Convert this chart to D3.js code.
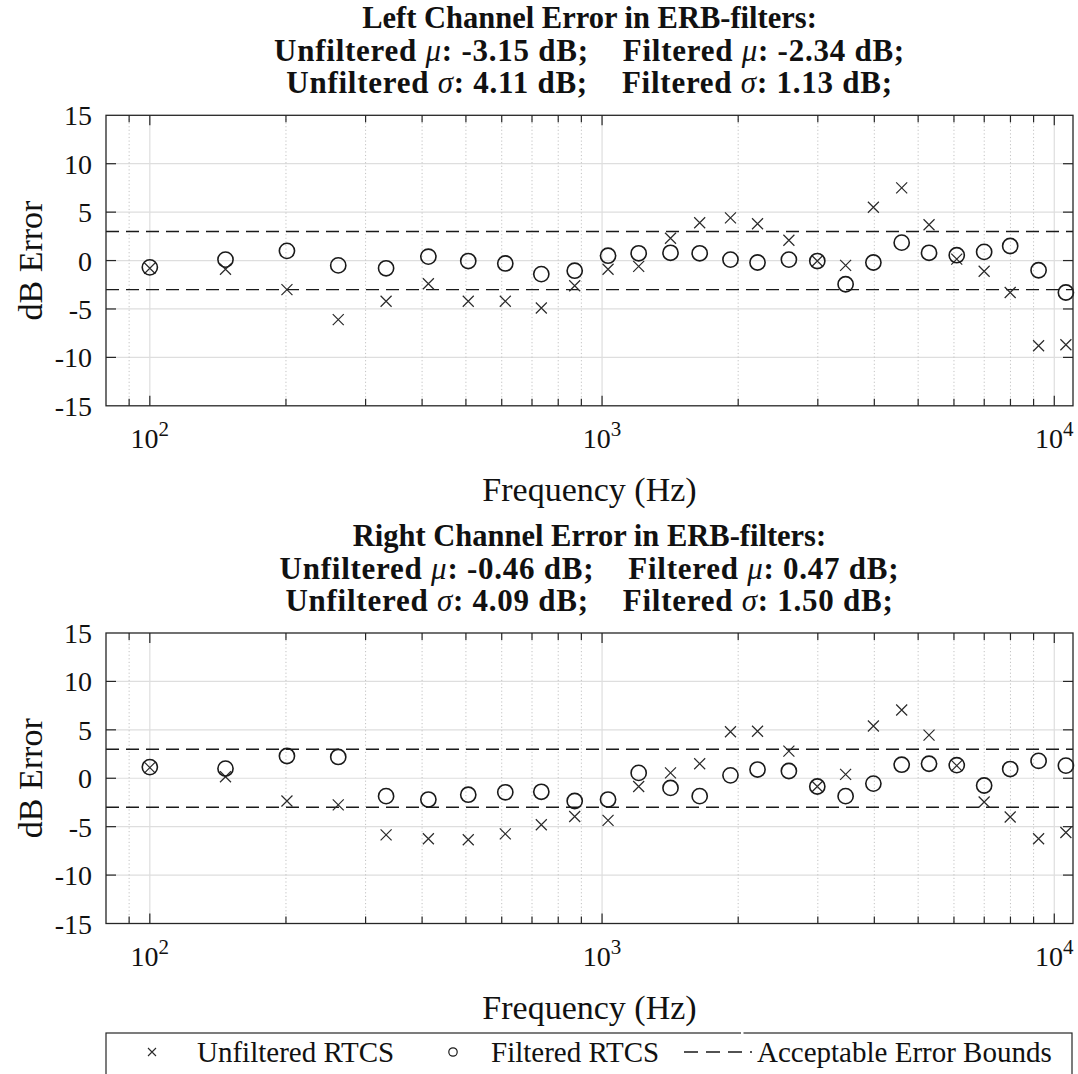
<!DOCTYPE html>
<html>
<head>
<meta charset="utf-8">
<script src="https://cdn.jsdelivr.net/npm/d3@7"></script>
<style>
  html, body { margin: 0; padding: 0; background: #fff; }
  svg { display: block; }
  text { font-family: "Liberation Serif", "Times New Roman", Times, serif; fill: #111; }
</style>
</head>
<body>
<svg id="chart" width="1078" height="1074"></svg>
<script>
// ERB-filter centre frequencies (Hz)
const frequencies = [100, 147, 201, 261, 333, 413, 506, 611, 734, 870, 1031, 1205, 1417, 1644,
  1923, 2207, 2589, 2992, 3456, 3981, 4598, 5285, 6086, 6997, 7989, 9232, 10609];

// Left channel error (dB)
const leftUnfiltered = [-0.8, -0.9, -3.0, -6.1, -4.2, -2.4, -4.2, -4.2, -4.9, -2.6, -0.9, -0.6, 2.3, 3.9,
  4.4, 3.8, 2.1, -0.05, -0.5, 5.5, 7.5, 3.7, 0.15, -1.1, -3.3, -8.8, -8.7];
const leftFiltered = [-0.7, 0.1, 1.0, -0.5, -0.8, 0.4, -0.05, -0.3, -1.4, -1.05, 0.5, 0.75, 0.8, 0.75,
  0.1, -0.2, 0.1, -0.05, -2.45, -0.2, 1.85, 0.8, 0.55, 0.9, 1.5, -1.0, -3.3];

// Right channel error (dB)
const rightUnfiltered = [1.1, 0.15, -2.35, -2.75, -5.85, -6.25, -6.35, -5.75, -4.8, -3.95, -4.35, -0.85, 0.55, 1.5,
  4.8, 4.85, 2.8, -0.85, 0.4, 5.4, 7.05, 4.45, 1.3, -2.45, -4.0, -6.25, -5.6];
const rightFiltered = [1.15, 1.0, 2.3, 2.2, -1.85, -2.2, -1.7, -1.45, -1.4, -2.35, -2.2, 0.55, -1.0, -1.85,
  0.3, 0.9, 0.75, -0.85, -1.85, -0.55, 1.4, 1.5, 1.35, -0.75, 0.95, 1.8, 1.3];

// Summary statistics: unfiltered mu, filtered mu, unfiltered sigma, filtered sigma
const leftStats = ["-3.15", "-2.34", "4.11", "1.13"];
const rightStats = ["-0.46", "0.47", "4.09", "1.50"];

const errorBound = 3;
const yTickValues = [-15, -10, -5, 0, 5, 10, 15];
const xDecades = [100, 1000, 10000];
const xTickExponents = ["2", "3", "4"];
const legendLabels = ["Unfiltered RTCS", "Filtered RTCS", "Acceptable Error Bounds"];

const svg = d3.select("#chart");
const axisColor = "#262626";
const plotLeft = 106, plotRight = 1073;
const freqDomain = [80, 11000];
const dbDomain = [-15, 15];

const minorX = [];
[10, 100, 1000, 10000].forEach(dec => d3.range(2, 10).forEach(k => {
  const f = k * dec;
  if (f > freqDomain[0] && f < freqDomain[1]) minorX.push(f);
}));

function titleLines(channel, stats) {
  return [
    [{ t: channel + " Channel Error in ERB-filters:" }],
    [{ t: "Unfiltered " }, { t: "\u03BC", i: true }, { t: ": " + stats[0] + " dB;    Filtered " },
     { t: "\u03BC", i: true }, { t: ": " + stats[1] + " dB;" }],
    [{ t: "Unfiltered " }, { t: "\u03C3", i: true }, { t: ": " + stats[2] + " dB;    Filtered " },
     { t: "\u03C3", i: true }, { t: ": " + stats[3] + " dB;" }]
  ];
}

function drawPanel(cfg) {
  const g = svg.append("g");
  const x = d3.scaleLog().domain(freqDomain).range([plotLeft, plotRight]);
  const y = d3.scaleLinear().domain(dbDomain).range([cfg.bottom, cfg.top]);
  const cx = (plotLeft + plotRight) / 2;

  // grid
  g.selectAll("line.gy").data(yTickValues.filter(v => v > dbDomain[0] && v < dbDomain[1])).join("line")
    .attr("class", "gy").attr("x1", plotLeft).attr("x2", plotRight)
    .attr("y1", d => y(d)).attr("y2", d => y(d))
    .attr("stroke", "#dedede").attr("stroke-width", 1.2);
  g.selectAll("line.gxm").data(minorX).join("line")
    .attr("class", "gxm").attr("x1", d => x(d)).attr("x2", d => x(d))
    .attr("y1", cfg.top).attr("y2", cfg.bottom)
    .attr("stroke", "#c2c2c2").attr("stroke-width", 1).attr("stroke-dasharray", "1.2 2.4");
  g.selectAll("line.gx").data(xDecades).join("line")
    .attr("class", "gx").attr("x1", d => x(d)).attr("x2", d => x(d))
    .attr("y1", cfg.top).attr("y2", cfg.bottom)
    .attr("stroke", "#dedede").attr("stroke-width", 1.2);

  // acceptable error bounds
  g.selectAll("line.bound").data([errorBound, -errorBound]).join("line")
    .attr("class", "bound").attr("x1", plotLeft).attr("x2", plotRight)
    .attr("y1", d => y(d)).attr("y2", d => y(d))
    .attr("stroke", "#1a1a1a").attr("stroke-width", 1.4).attr("stroke-dasharray", "13 7");

  // unfiltered (crosses)
  const arm = 5.5;
  g.selectAll("path.unf").data(d3.zip(frequencies, cfg.unfiltered)).join("path")
    .attr("class", "unf")
    .attr("transform", d => `translate(${x(d[0])},${y(d[1])})`)
    .attr("d", `M${-arm},${-arm}L${arm},${arm}M${-arm},${arm}L${arm},${-arm}`)
    .attr("fill", "none").attr("stroke", "#2a2a2a").attr("stroke-width", 1.2);

  // filtered (circles)
  g.selectAll("circle.fil").data(d3.zip(frequencies, cfg.filtered)).join("circle")
    .attr("class", "fil")
    .attr("cx", d => x(d[0])).attr("cy", d => y(d[1])).attr("r", 7.6)
    .attr("fill", "none").attr("stroke", "#1a1a1a").attr("stroke-width", 1.6);

  // box
  g.append("rect").attr("x", plotLeft).attr("y", cfg.top)
    .attr("width", plotRight - plotLeft).attr("height", cfg.bottom - cfg.top)
    .attr("fill", "none").attr("stroke", axisColor).attr("stroke-width", 1.3);

  // ticks (inward, all four sides)
  const xt = xDecades.map(v => ({ v, len: 10 })).concat(minorX.map(v => ({ v, len: 7 })));
  g.selectAll("line.xtb").data(xt).join("line").attr("class", "xtb")
    .attr("x1", d => x(d.v)).attr("x2", d => x(d.v))
    .attr("y1", cfg.bottom).attr("y2", d => cfg.bottom - d.len)
    .attr("stroke", axisColor).attr("stroke-width", 1.2);
  g.selectAll("line.xtt").data(xt).join("line").attr("class", "xtt")
    .attr("x1", d => x(d.v)).attr("x2", d => x(d.v))
    .attr("y1", cfg.top).attr("y2", d => cfg.top + d.len)
    .attr("stroke", axisColor).attr("stroke-width", 1.2);
  const yt = yTickValues.filter(v => v > dbDomain[0] && v < dbDomain[1]);
  g.selectAll("line.ytl").data(yt).join("line").attr("class", "ytl")
    .attr("x1", plotLeft).attr("x2", plotLeft + 10)
    .attr("y1", d => y(d)).attr("y2", d => y(d))
    .attr("stroke", axisColor).attr("stroke-width", 1.2);
  g.selectAll("line.ytr").data(yt).join("line").attr("class", "ytr")
    .attr("x1", plotRight).attr("x2", plotRight - 10)
    .attr("y1", d => y(d)).attr("y2", d => y(d))
    .attr("stroke", axisColor).attr("stroke-width", 1.2);

  // y tick labels
  g.selectAll("text.yl").data(yTickValues).join("text").attr("class", "yl")
    .attr("x", plotLeft - 14).attr("y", d => y(d) + 10)
    .attr("text-anchor", "end").attr("font-size", 28)
    .text(d => d);

  // x tick labels with exponents
  const xl = g.selectAll("text.xl").data(d3.zip(xDecades, xTickExponents)).join("text")
    .attr("class", "xl")
    .attr("x", d => x(d[0])).attr("y", cfg.bottom + 42)
    .attr("text-anchor", "middle").attr("font-size", 28);
  xl.append("tspan").text("10");
  xl.append("tspan").attr("dy", -12).attr("font-size", 21).text(d => d[1]);

  // axis labels
  g.append("text").attr("x", cx).attr("y", cfg.bottom + 95)
    .attr("text-anchor", "middle").attr("font-size", 34).text("Frequency (Hz)");
  g.append("text")
    .attr("transform", `translate(42,${(cfg.top + cfg.bottom) / 2}) rotate(-90)`)
    .attr("text-anchor", "middle").attr("font-size", 34).text("dB Error");

  // title
  const lines = titleLines(cfg.channel, cfg.stats);
  const offsets = [-87, -54, -22];
  lines.forEach((segs, i) => {
    const t = g.append("text").attr("x", cx).attr("y", cfg.top + offsets[i])
      .attr("text-anchor", "middle").attr("font-size", i === 0 ? 30.5 : 31)
      .attr("letter-spacing", i === 0 ? 0 : 0.75)
      .attr("font-weight", "bold")
      .attr("xml:space", "preserve").style("white-space", "pre");
    segs.forEach(s => {
      const sp = t.append("tspan").text(s.t);
      if (s.i) sp.attr("font-style", "italic").attr("font-weight", "normal");
    });
  });
}

drawPanel({ channel: "Left", stats: leftStats, unfiltered: leftUnfiltered, filtered: leftFiltered,
  top: 115.3, bottom: 405.8 });
drawPanel({ channel: "Right", stats: rightStats, unfiltered: rightUnfiltered, filtered: rightFiltered,
  top: 633, bottom: 923.5 });

// legend
const lg = svg.append("g");
const legTop = 1033, legY = 1052;
const legLeft = 106, legRight = 1072;
lg.append("rect").attr("x", legLeft).attr("y", legTop).attr("width", legRight - legLeft).attr("height", 60)
  .attr("fill", "#fff").attr("stroke", axisColor).attr("stroke-width", 1.2);
lg.append("line").attr("x1", 741).attr("x2", 743.5).attr("y1", legTop).attr("y2", legTop)
  .attr("stroke", "#fff").attr("stroke-width", 2);
lg.append("path").attr("transform", `translate(152,${legY})`)
  .attr("d", "M-4,-4L4,4M-4,4L4,-4").attr("fill", "none").attr("stroke", "#2a2a2a").attr("stroke-width", 1.1);
lg.append("circle").attr("cx", 453).attr("cy", legY).attr("r", 4.2)
  .attr("fill", "none").attr("stroke", "#1a1a1a").attr("stroke-width", 1.2);
lg.append("line").attr("x1", 684).attr("x2", 752).attr("y1", legY).attr("y2", legY)
  .attr("stroke", "#1a1a1a").attr("stroke-width", 1.3).attr("stroke-dasharray", "14 8");
const legTextX = [197, 491, 757];
lg.selectAll("text.lt").data(legendLabels).join("text").attr("class", "lt")
  .attr("x", (d, i) => legTextX[i]).attr("y", 1062)
  .attr("font-size", 29).text(d => d);
</script>
</body>
</html>
